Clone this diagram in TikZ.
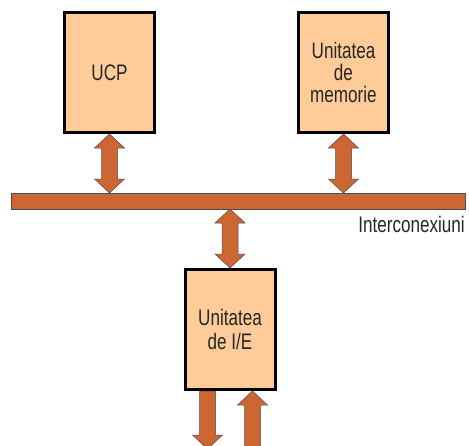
\documentclass[tikz,border=0pt]{standalone}
\usepackage{fontspec}
\setmainfont{Liberation Sans}[FakeStretch=0.76]
\usepackage{tikz}
\usetikzlibrary{calc, positioning}

\definecolor{unitfill}{HTML}{FFCC99}
\definecolor{busfill}{HTML}{CC6633}

% wide double arrow, tip #1 on top, tip #2 below
\newcommand{\busarrow}[2]{%
  \draw[busline] (#1) -- ($(#1)+(15,14)$) -- ($(#1)+(8,14)$) -- ($(#2)+(8,-14)$) -- ($(#2)+(15,-14)$) -- (#2)
    -- ($(#2)+(-15,-14)$) -- ($(#2)+(-8,-14)$) -- ($(#1)+(-8,14)$) -- ($(#1)+(-15,14)$) -- cycle;}
% wide arrow pointing down, shaft from #1, tip #2
\newcommand{\outarrow}[2]{%
  \draw[busline] ($(#1)+(-8,0)$) -- ($(#1)+(8,0)$) -- ($(#2)+(8,-14)$) -- ($(#2)+(15,-14)$) -- (#2)
    -- ($(#2)+(-15,-14)$) -- ($(#2)+(-8,-14)$) -- cycle;}
% wide arrow pointing up, tip #1, shaft down to #2
\newcommand{\inarrow}[2]{%
  \draw[busline] (#1) -- ($(#1)+(15,14)$) -- ($(#1)+(8,14)$) -- ($(#2)+(8,0)$) -- ($(#2)+(-8,0)$)
    -- ($(#1)+(-8,14)$) -- ($(#1)+(-15,14)$) -- cycle;}

\begin{document}
\begin{tikzpicture}[x=1pt, y=-1pt]

\tikzstyle{unit} = [rectangle, draw=black, line width=3pt, fill=unitfill, minimum width=90pt, minimum height=120pt, outer sep=1.5pt, align=center, text=black!85, font=\fontsize{22.5}{22}\selectfont]
\tikzstyle{bus} = [rectangle, draw=black!70, line width=0.5pt, fill=busfill, minimum width=454pt, minimum height=16pt, inner sep=0pt, outer sep=0pt]
\tikzstyle{busline} = [draw=black!70, line width=0.5pt, fill=busfill, line join=miter]
\tikzstyle{lbl} = [inner sep=0pt, text=black!85, font=\fontsize{22.5}{22}\selectfont]

\useasboundingbox (0,0) rectangle (469,445);

% Make nodes
\node (ucp) [unit] at (109.5, 72.5) {UCP};
\node (mem) [unit, right=141pt of ucp] {Unitatea\\de\\memorie};
\node (bus) [bus] at (238, 201) {};
\node (ie) [unit, font=\fontsize{22.5}{24}\selectfont] at (230, 329.5) {Unitatea\\de I/E};

% Bus label
\node (buslbl) [lbl, anchor=base east] at ([yshift=-23pt]bus.south east) {Interconexiuni};

% Arrow ends
\coordinate (ucpbus) at (ucp.south |- bus.north);
\coordinate (membus) at (mem.south |- bus.north);
\coordinate (iebus) at (ie.north |- bus.south);
\coordinate (ieout) at ([xshift=-22.5pt]ie.south);
\coordinate (ieoutend) at ([yshift=-58pt]ieout);
\coordinate (iein) at ([xshift=22.5pt]ie.south);
\coordinate (ieinend) at ([yshift=-60pt]iein);

% Connect nodes
\busarrow{ucp.south}{ucpbus}
\busarrow{mem.south}{membus}
\busarrow{iebus}{ie.north}
\outarrow{ieout}{ieoutend}
\inarrow{iein}{ieinend}

\end{tikzpicture}
\end{document}
